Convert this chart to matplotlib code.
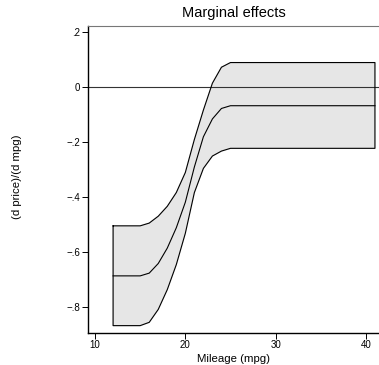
import numpy as np
import matplotlib
matplotlib.use("Agg")
import matplotlib.pyplot as plt

plt.rcParams['font.family'] = ['Liberation Sans', 'DejaVu Sans']

# Marginal effect of mpg on price, with confidence band
mpg = [12, 15, 16, 17, 18, 19, 20, 21, 22, 23, 24, 25, 41]
upper = [-0.504, -0.504, -0.494, -0.469, -0.433, -0.383, -0.310, -0.190,
         -0.083, 0.015, 0.073, 0.090, 0.090]
effect = [-0.686, -0.686, -0.676, -0.641, -0.585, -0.511, -0.418, -0.290,
          -0.180, -0.115, -0.077, -0.067, -0.067]
lower = [-0.867, -0.867, -0.855, -0.808, -0.736, -0.645, -0.531, -0.383,
         -0.295, -0.250, -0.232, -0.222, -0.222]

xticks = [10, 20, 30, 40]
yticks = [0.2, 0, -0.2, -0.4, -0.6, -0.8]
ytick_labels = [".2", "0", "\u2212.2", "\u2212.4", "\u2212.6", "\u2212.8"]

fig = plt.figure(figsize=(3.79, 3.65), dpi=100)
ax = fig.add_axes([88 / 379, 32.5 / 365, 1 - 88 / 379, (332.5 - 26) / 365])

# band: filled polygon with black outline
xs = np.array(mpg)
poly_x = np.concatenate([xs, xs[::-1], xs[:1]])
poly_y = np.concatenate([upper, lower[::-1], upper[:1]])
ax.fill(poly_x, poly_y, color='#e6e6e6', zorder=1)
ax.plot(poly_x, poly_y, color='black', lw=0.8, zorder=3)
ax.plot(xs, effect, color='black', lw=0.8, zorder=3)

ax.axhline(0, color='#333333', lw=0.8, zorder=2)

ax.set_xlim(9.22, 41.45)
ax.set_ylim(-0.892, 0.223)

ax.set_xticks(xticks)
ax.set_xticklabels([str(t) for t in xticks], fontsize=7)
ax.set_yticks(yticks)
ax.set_yticklabels(ytick_labels, fontsize=7)
ax.tick_params(direction='out', length=4, width=0.7, pad=1.5)

ax.spines['left'].set_linewidth(1.0)
ax.spines['bottom'].set_linewidth(1.0)
ax.spines['top'].set_color('#777777')
ax.spines['top'].set_linewidth(0.8)
ax.spines['right'].set_visible(False)

ax.set_title("Marginal effects", fontsize=10.5, pad=6.5)
ax.set_xlabel("Mileage (mpg)", fontsize=8.2, labelpad=3)
fig.text(17 / 379, 1 - 177 / 365, "(d price)/(d mpg)", rotation=90,
         fontsize=8.2, ha='center', va='center')

fig.savefig("out.png", dpi=100)
